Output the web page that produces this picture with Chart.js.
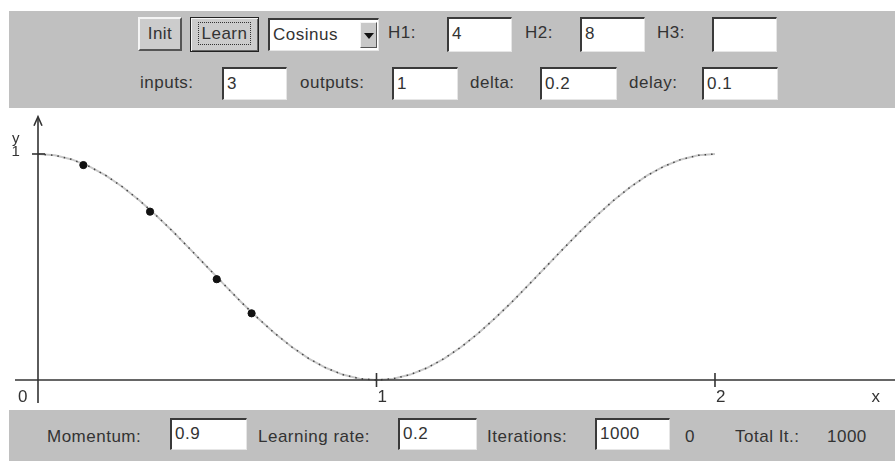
<!DOCTYPE html>
<html><head><meta charset="utf-8">
<script src="https://cdn.jsdelivr.net/npm/chart.js@4"></script>
<style>
html,body{margin:0;padding:0;background:#fff;width:895px;height:461px;overflow:hidden;}
body{position:relative;font-family:"Liberation Sans",Arial,sans-serif;font-size:17px;color:#333;letter-spacing:0.5px;}
.panel{position:absolute;background:#c0c0c0;}
.lbl{position:absolute;white-space:nowrap;line-height:20px;}
.fld{position:absolute;background:#fff;box-sizing:border-box;border-top:2px solid #3a3a3a;border-left:2px solid #3a3a3a;border-right:1px solid #e6e6e6;border-bottom:1px solid #e6e6e6;padding-left:3px;white-space:nowrap;}
.btn{position:absolute;box-sizing:border-box;background:#cccccc;border-top:2px solid #f4f4f4;border-left:2px solid #f4f4f4;border-right:2px solid #555;border-bottom:2px solid #555;text-align:center;white-space:nowrap;}
#chartwrap{position:absolute;left:0;top:108px;width:895px;height:302px;}
</style></head>
<body>
<div class="panel" style="left:9px;top:11px;width:886px;height:97px;"></div>
<div class="panel" style="left:9px;top:410px;width:886px;height:51px;"></div>

<div class="btn" style="left:138px;top:17px;width:44px;height:34px;line-height:30px;">Init</div>
<div class="btn" style="left:190px;top:17px;width:69px;height:35px;line-height:31px;border:1px solid #222;box-shadow:inset 1px 1px 0 #f4f4f4, inset -1px -1px 0 #666;"><span style="border:1px dotted #333;padding:1px 3px;">Learn</span></div>
<div class="fld" style="left:268px;top:18px;width:111px;height:33px;line-height:30px;">Cosinus<div style="position:absolute;right:1px;top:2px;width:17px;height:26px;background:#c8c8c8;border-top:1px solid #f4f4f4;border-left:1px solid #f4f4f4;border-right:1px solid #555;border-bottom:1px solid #555;box-sizing:border-box;"><div style="position:absolute;left:3px;top:10px;width:0;height:0;border-left:5px solid transparent;border-right:5px solid transparent;border-top:6px solid #111;"></div></div></div>
<div class="lbl" style="left:388px;top:23px;">H1:</div>
<div class="fld" style="left:447px;top:17px;width:65px;height:35px;line-height:30px;">4</div>
<div class="lbl" style="left:525px;top:23px;">H2:</div>
<div class="fld" style="left:580px;top:17px;width:65px;height:35px;line-height:30px;">8</div>
<div class="lbl" style="left:657px;top:23px;">H3:</div>
<div class="fld" style="left:712px;top:17px;width:65px;height:35px;line-height:30px;"></div>

<div class="lbl" style="left:140px;top:73px;">inputs:</div>
<div class="fld" style="left:222px;top:67px;width:65px;height:33px;line-height:29px;">3</div>
<div class="lbl" style="left:300px;top:73px;">outputs:</div>
<div class="fld" style="left:392px;top:67px;width:66px;height:33px;line-height:29px;">1</div>
<div class="lbl" style="left:470px;top:73px;">delta:</div>
<div class="fld" style="left:540px;top:67px;width:77px;height:33px;line-height:29px;">0.2</div>
<div class="lbl" style="left:629px;top:73px;">delay:</div>
<div class="fld" style="left:702px;top:67px;width:76px;height:33px;line-height:29px;">0.1</div>

<div class="lbl" style="left:47px;top:427px;">Momentum:</div>
<div class="fld" style="left:170px;top:418px;width:77px;height:32px;line-height:28px;">0.9</div>
<div class="lbl" style="left:258px;top:427px;">Learning rate:</div>
<div class="fld" style="left:398px;top:418px;width:79px;height:32px;line-height:28px;">0.2</div>
<div class="lbl" style="left:487px;top:427px;">Iterations:</div>
<div class="fld" style="left:595px;top:418px;width:75px;height:32px;line-height:28px;">1000</div>
<div class="lbl" style="left:685px;top:427px;">0</div>
<div class="lbl" style="left:735px;top:427px;">Total It.:</div>
<div class="lbl" style="left:827px;top:427px;">1000</div>

<div id="chartwrap"><canvas id="c" width="895" height="302"></canvas></div>

<script>
// Curve (x, y)
const curveX = [0,0.05,0.1,0.15,0.2,0.25,0.3,0.35,0.4,0.45,0.5,0.55,0.6,0.65,0.7,0.75,0.8,0.85,0.9,0.95,1.0,1.05,1.1,1.15,1.2,1.25,1.3,1.35,1.4,1.45,1.5,1.55,1.6,1.65,1.7,1.75,1.8,1.85,1.9,1.95,2.0];
const curveY = [1.0,0.994,0.976,0.946,0.905,0.854,0.794,0.727,0.655,0.578,0.5,0.422,0.345,0.273,0.206,0.146,0.095,0.054,0.024,0.006,0.0,0.006,0.024,0.054,0.095,0.146,0.206,0.273,0.345,0.422,0.5,0.578,0.655,0.727,0.794,0.854,0.905,0.946,0.976,0.994,1.0];
// Training samples
const sampleX = [0.134,0.331,0.528,0.631];
const sampleY = [0.951,0.745,0.446,0.295];
// Axis ticks
const xTicks = [1,2];
const xTickLabels = ['1','2'];
const yTicks = [1];
const yTickLabels = ['1'];

const curvePts = curveX.map((x,i)=>({x:x,y:curveY[i]}));
const samplePts = sampleX.map((x,i)=>({x:x,y:sampleY[i]}));

const axesPlugin = {
  id:'axes',
  afterDatasetsDraw(chart){
    const ctx = chart.ctx, xs = chart.scales.x, ys = chart.scales.y;
    const x0 = xs.getPixelForValue(0), y0 = ys.getPixelForValue(0);
    ctx.save();
    ctx.strokeStyle = '#333'; ctx.lineWidth = 1.6;
    // x axis
    ctx.beginPath();
    ctx.moveTo(xs.getPixelForValue(-0.068), y0);
    ctx.lineTo(chart.width, y0);
    ctx.stroke();
    // y axis
    const yTop = ys.getPixelForValue(1.165);
    ctx.beginPath();
    ctx.moveTo(x0, ys.getPixelForValue(-0.102));
    ctx.lineTo(x0, yTop);
    ctx.stroke();
    // arrow
    ctx.beginPath();
    ctx.moveTo(x0-4, yTop+9); ctx.lineTo(x0, yTop); ctx.lineTo(x0+4, yTop+9);
    ctx.stroke();
    // ticks
    xTicks.forEach(v=>{
      const p = xs.getPixelForValue(v);
      ctx.beginPath(); ctx.moveTo(p, y0-7); ctx.lineTo(p, y0+7); ctx.stroke();
    });
    yTicks.forEach(v=>{
      const p = ys.getPixelForValue(v);
      ctx.beginPath(); ctx.moveTo(x0-6, p); ctx.lineTo(x0+7, p); ctx.stroke();
    });
    // labels
    ctx.fillStyle = '#333';
    ctx.font = '17px "Liberation Sans", Arial, sans-serif';
    ctx.textBaseline = 'middle';
    ctx.textAlign = 'center';
    ctx.fillText('0', x0-15, y0+17);
    xTicks.forEach((v,i)=>{
      ctx.fillText(xTickLabels[i], xs.getPixelForValue(v)+6, y0+17);
    });
    ctx.fillText('x', 876, y0+17);
    ctx.font = '15px "Liberation Sans", Arial, sans-serif';
    ctx.fillText('y', x0-22, ys.getPixelForValue(1)-15);
    yTicks.forEach((v,i)=>{
      ctx.fillText(yTickLabels[i], x0-22, ys.getPixelForValue(v)-2);
    });
    ctx.restore();
  }
};

new Chart(document.getElementById('c'), {
  type:'scatter',
  data:{datasets:[
    {data:curvePts, showLine:true, borderColor:'#c8c8c8', borderWidth:2, pointRadius:0, order:3},
    {data:curvePts, showLine:true, borderColor:'#444', borderWidth:1.5, borderDash:[1.5,5], pointRadius:0, order:2},
    {data:samplePts, showLine:false, backgroundColor:'#111', borderColor:'#111', pointRadius:3.6, order:1}
  ]},
  options:{
    responsive:false, animation:false, events:[],
    layout:{padding:0, autoPadding:false},
    plugins:{legend:{display:false}, tooltip:{enabled:false}},
    scales:{
      x:{type:'linear', min:-0.11226, max:2.5318, display:false},
      y:{type:'linear', min:-0.1327, max:1.2035, display:false}
    }
  },
  plugins:[axesPlugin]
});
</script>
</body></html>
